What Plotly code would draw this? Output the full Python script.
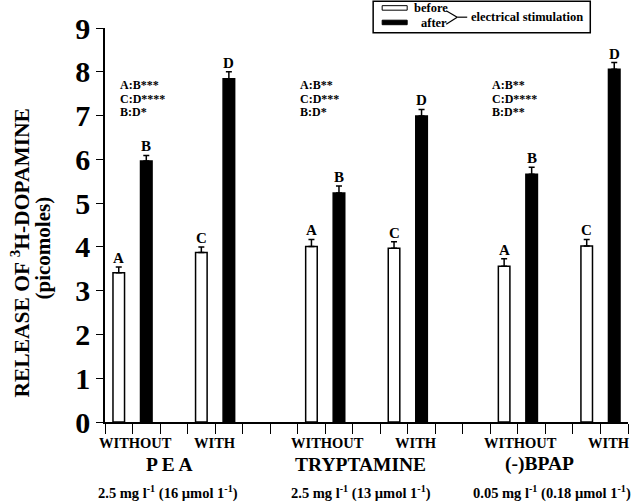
import plotly.graph_objects as go

# ---------------- data ----------------
groups = ["P E A", "TRYPTAMINE", "(-)BPAP"]
doses = ["2.5 mg l<sup>-1</sup> (16 µmol 1<sup>-1</sup>)",
         "2.5 mg l<sup>-1</sup> (13 µmol 1<sup>-1</sup>)",
         "0.05 mg l<sup>-1</sup> (0.18 µmol 1<sup>-1</sup>)"]
conditions = ["WITHOUT", "WITH"]
# order: PEA-without, PEA-with, TRY-without, TRY-with, BPAP-without, BPAP-with
before_vals = [3.41, 3.87, 4.01, 3.97, 3.56, 4.02]
before_err = [0.13, 0.13, 0.16, 0.15, 0.17, 0.15]
after_vals = [5.96, 7.84, 5.23, 6.99, 5.66, 8.06]
after_err = [0.13, 0.16, 0.16, 0.15, 0.16, 0.15]
before_letters = ["A", "C"]
after_letters = ["B", "D"]
stats = [["A:B***", "C:D****", "B:D*"],
         ["A:B**", "C:D***", "B:D*"],
         ["A:B**", "C:D****", "B:D**"]]
y_ticks = list(range(0, 10))
legend_labels = ["before", "after", "electrical stimulation"]

# ---------------- layout helpers ----------------
FONT = "Liberation Serif"
W, H = 640, 503
X0, X1 = 105.0, 627.7      # plot area pixel edges
YB, YT = 421.7, 28.3       # y=0 and y=9 pixel rows
ML, MR, MT, MB = X0, W - X1, YT, H - YB


def px(xp):
    return (xp - X0) / (X1 - X0)


def py(yp):
    return (YB - yp) / (YB - YT)


GROUP_STEP = 7
COND_STEP = 3
x_before = [g * GROUP_STEP + 0.5 + c * COND_STEP for g in range(len(groups)) for c in range(len(conditions))]
x_after = [x + 1 for x in x_before]

fig = go.Figure()
fig.add_trace(go.Bar(
    x=x_before, y=before_vals, width=0.42, name=legend_labels[0],
    marker=dict(color="white", line=dict(color="black", width=1.5)),
    error_y=dict(type="data", symmetric=False, array=before_err,
                 arrayminus=[0] * len(before_err), color="black", thickness=1.5, width=3),
))
fig.add_trace(go.Bar(
    x=x_after, y=after_vals, width=0.42, name=legend_labels[1],
    marker=dict(color="black", line=dict(color="black", width=1.5)),
    error_y=dict(type="data", symmetric=False, array=after_err,
                 arrayminus=[0] * len(after_err), color="black", thickness=1.5, width=3),
))

ann = []
# letters above bars
for i, (xb, v, e) in enumerate(zip(x_before, before_vals, before_err)):
    ann.append(dict(x=xb, y=v + e, xref="x", yref="y", text=before_letters[i % 2],
                    showarrow=False, yanchor="bottom", yshift=-1, font=dict(size=15)))
for i, (xa, v, e) in enumerate(zip(x_after, after_vals, after_err)):
    ann.append(dict(x=xa, y=v + e, xref="x", yref="y", text=after_letters[i % 2],
                    showarrow=False, yanchor="bottom", yshift=-1, font=dict(size=15)))

# statistics text
stat_x = [0.48, 7.02, 14.0]
stat_rows = [85, 99, 112]
for g, lines in enumerate(stats):
    for line, rowp in zip(lines, stat_rows):
        ann.append(dict(x=stat_x[g], y=py(rowp), xref="x", yref="paper", text=line,
                        showarrow=False, xanchor="left", yanchor="middle", font=dict(size=12)))

# category labels under axis
cond_x = [[1.1, 4.0], [1.1, 4.3], [1.1, 4.3]]
for g in range(len(groups)):
    for c, lab in enumerate(conditions):
        ann.append(dict(x=g * GROUP_STEP + cond_x[g][c], y=py(443), xref="x", yref="paper", text=lab,
                        showarrow=False, yanchor="middle", font=dict(size=14.5)))
group_x = [2.35, 9.3, 15.8]
for g, lab in enumerate(groups):
    ann.append(dict(x=group_x[g], y=py(464), xref="x", yref="paper", text=lab,
                    showarrow=False, yanchor="middle", font=dict(size=19.5)))
dose_x = [2.3, 9.3, 16.25]
for g, lab in enumerate(doses):
    ann.append(dict(x=dose_x[g], y=py(492), xref="x", yref="paper", text=lab,
                    showarrow=False, yanchor="middle", font=dict(size=14.5)))

# y axis title (two lines)
ann.append(dict(x=px(20.5), y=py(253), xref="paper", yref="paper", xanchor="center", yanchor="middle",
                text="RELEASE OF <sup>3</sup>H-DOPAMINE", textangle=-90,
                showarrow=False, font=dict(size=21.5)))
ann.append(dict(x=px(43.5), y=py(248), xref="paper", yref="paper", xanchor="center", yanchor="middle",
                text="(picomoles)", textangle=-90, showarrow=False, font=dict(size=21)))

# legend (custom box)
shapes = []
shapes.append(dict(type="rect", xref="paper", yref="paper", x0=px(373), x1=px(590), y0=py(33), y1=py(1.7),
                   line=dict(color="black", width=1.5), fillcolor="white", layer="above"))
shapes.append(dict(type="rect", xref="paper", yref="paper", x0=px(382), x1=px(407), y0=py(10.5), y1=py(6),
                   line=dict(color="black", width=1), fillcolor="white"))
shapes.append(dict(type="rect", xref="paper", yref="paper", x0=px(382), x1=px(407), y0=py(25), y1=py(20.5),
                   line=dict(color="black", width=1), fillcolor="black"))
for (xa, ya, xb, yb) in [(446, 11, 457, 17.5), (446, 24.5, 457, 17.5), (457, 17.5, 467, 17.5)]:
    shapes.append(dict(type="line", xref="paper", yref="paper", x0=px(xa), y0=py(ya), x1=px(xb), y1=py(yb),
                       line=dict(color="black", width=1.2)))
ann.append(dict(x=px(412), y=py(8.5), xref="paper", yref="paper", text=legend_labels[0], showarrow=False,
                xanchor="left", yanchor="middle", font=dict(size=12.5)))
ann.append(dict(x=px(419), y=py(23.5), xref="paper", yref="paper", text=legend_labels[1], showarrow=False,
                xanchor="left", yanchor="middle", font=dict(size=12.5)))
ann.append(dict(x=px(469), y=py(17), xref="paper", yref="paper", text=legend_labels[2], showarrow=False,
                xanchor="left", yanchor="middle", font=dict(size=12.5)))

fig.update_layout(
    width=W, height=H,
    margin=dict(l=ML, r=MR, t=MT, b=MB, pad=0),
    paper_bgcolor="white", plot_bgcolor="white",
    font=dict(family=FONT, color="black", weight="bold"),
    showlegend=False,
    barmode="overlay",
    annotations=ann, shapes=shapes,
    xaxis=dict(range=[0, 19], tickmode="array", tickvals=list(range(0, 20)), showticklabels=False,
               ticks="outside", ticklen=10, tickwidth=1.2, tickcolor="black",
               showline=True, linecolor="black", linewidth=1.5, showgrid=False, zeroline=False,
               fixedrange=True),
    yaxis=dict(range=[0, 9], tickmode="array", tickvals=y_ticks, ticktext=[str(t) for t in y_ticks],
               ticks="outside", ticklen=7, tickwidth=1.2, tickcolor="black",
               tickfont=dict(size=30, family=FONT, weight="bold"),
               showline=True, linecolor="black", linewidth=1.5, showgrid=False, zeroline=False,
               fixedrange=True),
)

fig.write_html("out.html", config={"displayModeBar": False},
               post_script="document.body.style.margin='0';document.body.style.overflow='hidden';")
